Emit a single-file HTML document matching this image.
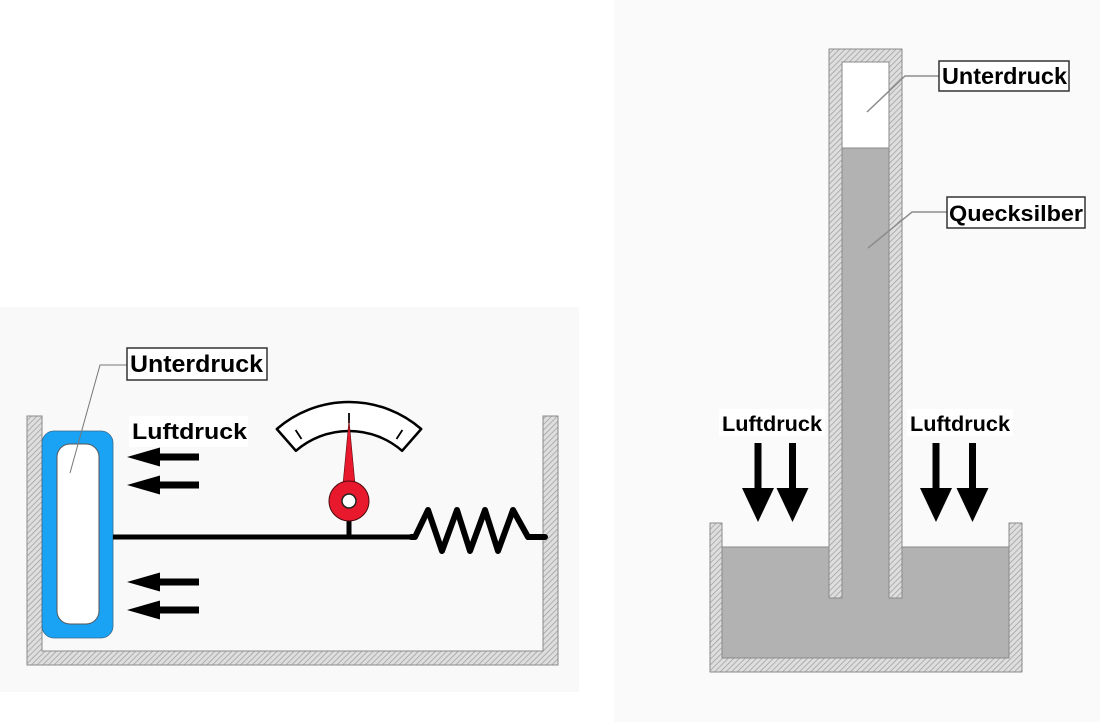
<!DOCTYPE html>
<html>
<head>
<meta charset="utf-8">
<style>
  html, body { margin: 0; padding: 0; background: #ffffff; }
  body { width: 1100px; height: 722px; overflow: hidden; }
  svg { display: block; }
  text { font-family: "Liberation Sans", Arial, sans-serif; font-weight: bold; fill: #000; }
</style>
</head>
<body>
<svg width="1100" height="722" viewBox="0 0 1100 722" xmlns="http://www.w3.org/2000/svg">
  <defs>
    <pattern id="hatch" patternUnits="userSpaceOnUse" width="4" height="4" patternTransform="rotate(45)">
      <rect width="4" height="4" fill="#dedede"/>
      <line x1="0" y1="0" x2="0" y2="4" stroke="#9a9a9a" stroke-width="1.4"/>
    </pattern>
  </defs>

  <!-- page background -->
  <rect x="0" y="0" width="1100" height="722" fill="#ffffff"/>
  <!-- panels -->
  <rect x="0" y="307" width="579" height="385" fill="#f9f9f9"/>
  <rect x="614" y="0" width="486" height="722" fill="#fafafa"/>

  <!-- ============ LEFT DIAGRAM ============ -->
  <!-- container -->
  <path d="M27,416 H42 V651 H543 V416 H558 V665 H27 Z" fill="url(#hatch)" stroke="#8a8a8a" stroke-width="1"/>

  <!-- capsule -->
  <rect x="42" y="431" width="71" height="207" rx="12" ry="12" fill="#1aa2f4" stroke="#3a6a8a" stroke-width="0.8"/>
  <rect x="57" y="444" width="42" height="180" rx="13" ry="13" fill="#ffffff" stroke="#555" stroke-width="1"/>

  <!-- rod -->
  <line x1="113" y1="537" x2="416" y2="537" stroke="#000" stroke-width="5"/>
  <!-- spring -->
  <polyline points="411,537 415,537 428,510 442,551 457,510 470,551 485,510 498,551 513,510 528,537 545,537"
            fill="none" stroke="#000" stroke-width="6" stroke-linejoin="round" stroke-linecap="round"/>
  <!-- stem -->
  <line x1="349" y1="515" x2="349" y2="537" stroke="#000" stroke-width="5"/>

  <!-- gauge scale -->
  <path d="M276.8,429 A110,110 0 0 1 421.2,429 L402.1,450.8 A81,81 0 0 0 295.9,450.8 Z"
        fill="#ffffff" stroke="#000" stroke-width="2.5" stroke-linejoin="round"/>
  <line x1="301.5" y1="439" x2="295.6" y2="430" stroke="#000" stroke-width="1.8"/>
  <line x1="349" y1="413" x2="349" y2="423" stroke="#000" stroke-width="1.8"/>
  <line x1="396.5" y1="439" x2="402.4" y2="430" stroke="#000" stroke-width="1.8"/>

  <!-- needle -->
  <polygon points="349,420 343,484 355,484" fill="#e8192c" stroke="#5a0a10" stroke-width="0.6"/>
  <circle cx="349" cy="501" r="20" fill="#e8192c" stroke="#4a0a10" stroke-width="1"/>
  <circle cx="349" cy="501" r="7" fill="#ffffff" stroke="#222" stroke-width="1.5"/>

  <!-- left arrows -->
  <g fill="#000">
    <polygon points="127,457 160,447.5 160,466.5"/>
    <rect x="158" y="453.5" width="41" height="7"/>
    <polygon points="127,485 160,475.5 160,494.5"/>
    <rect x="158" y="481.5" width="41" height="7"/>
    <polygon points="127,582 160,572.5 160,591.5"/>
    <rect x="158" y="578.5" width="41" height="7"/>
    <polygon points="127,610 160,600.5 160,619.5"/>
    <rect x="158" y="606.5" width="41" height="7"/>
  </g>

  <!-- leader + Unterdruck label (left) -->
  <polyline points="127,365 100,365 70,473" fill="none" stroke="#777" stroke-width="1"/>
  <rect x="127" y="348" width="140" height="32" fill="#ffffff" stroke="#333" stroke-width="1.5"/>
  <text x="130" y="372" font-size="24" textLength="133" lengthAdjust="spacingAndGlyphs">Unterdruck</text>

  <!-- Luftdruck (left) -->
  <rect x="129" y="416" width="119" height="31" fill="#ffffff"/>
  <text x="132" y="439" font-size="22" textLength="115" lengthAdjust="spacingAndGlyphs">Luftdruck</text>

  <!-- ============ RIGHT DIAGRAM ============ -->
  <!-- mercury -->
  <path d="M722,547 H842 V148 H889 V547 H1009 V658 H722 Z" fill="#b2b2b2" stroke="#8a8a8a" stroke-width="1"/>
  <!-- vacuum -->
  <rect x="842" y="62" width="47" height="86" fill="#ffffff"/>
  <line x1="842" y1="148" x2="889" y2="148" stroke="#8a8a8a" stroke-width="1"/>

  <!-- container -->
  <path d="M710,523 H722 V658 H1009 V523 H1022 V672 H710 Z" fill="url(#hatch)" stroke="#8a8a8a" stroke-width="1" stroke-linejoin="round"/>
  <!-- tube -->
  <path d="M829,598 V49 H902 V598 H889 V62 H842 V598 Z" fill="url(#hatch)" stroke="#8a8a8a" stroke-width="1" stroke-linejoin="round"/>

  <!-- down arrows -->
  <g fill="#000">
    <rect x="754.5" y="443" width="7" height="47"/>
    <polygon points="742,488 774,488 758,522"/>
    <rect x="789" y="443" width="7" height="47"/>
    <polygon points="776.5,488 808.5,488 792.5,522"/>
    <rect x="932.5" y="443" width="7" height="47"/>
    <polygon points="920,488 952,488 936,522"/>
    <rect x="969" y="443" width="7" height="47"/>
    <polygon points="956.5,488 988.5,488 972.5,522"/>
  </g>

  <!-- Luftdruck labels (right) -->
  <rect x="719" y="409" width="106" height="27" fill="#ffffff"/>
  <text x="722" y="431" font-size="21" textLength="100" lengthAdjust="spacingAndGlyphs">Luftdruck</text>
  <rect x="907" y="409" width="106" height="27" fill="#ffffff"/>
  <text x="910" y="431" font-size="21" textLength="100" lengthAdjust="spacingAndGlyphs">Luftdruck</text>

  <!-- leaders (right) -->
  <polyline points="939,76 905,76 867,112" fill="none" stroke="#8c8c8c" stroke-width="1.5"/>
  <polyline points="947,212 912,212 868,248" fill="none" stroke="#8c8c8c" stroke-width="1.5"/>

  <!-- Unterdruck label (right) -->
  <rect x="939" y="61" width="130" height="30" fill="#ffffff" stroke="#333" stroke-width="1.5"/>
  <text x="942" y="84" font-size="23" textLength="125" lengthAdjust="spacingAndGlyphs">Unterdruck</text>

  <!-- Quecksilber label -->
  <rect x="947" y="197" width="138" height="31" fill="#ffffff" stroke="#333" stroke-width="1.5"/>
  <text x="949" y="221" font-size="22" textLength="134" lengthAdjust="spacingAndGlyphs">Quecksilber</text>
</svg>
</body>
</html>
